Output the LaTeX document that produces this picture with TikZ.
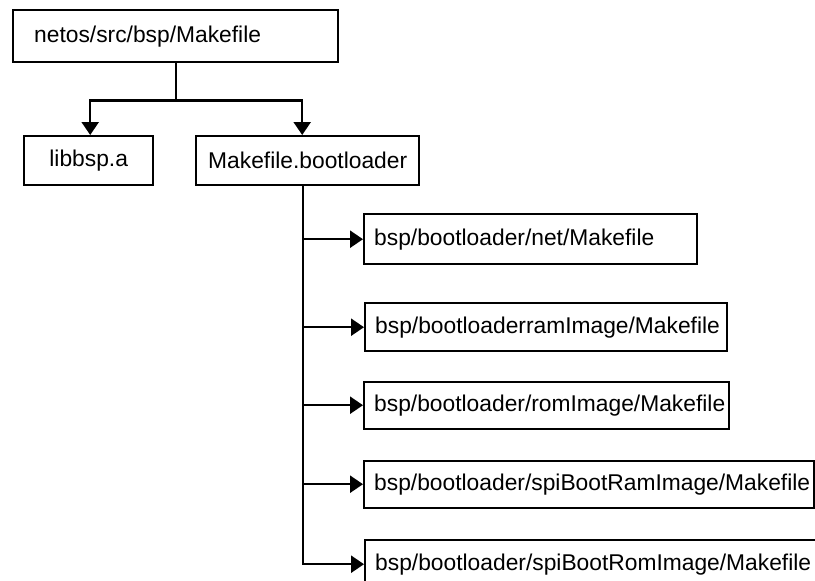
\documentclass[tikz,border=0pt]{standalone}
\usepackage{fontspec}
\setmainfont{Liberation Sans}
\usetikzlibrary{arrows.meta}
\begin{document}
\begin{tikzpicture}[x=1pt,y=-1pt,
  box/.style={draw, line width=2.4pt, anchor=north west, inner ysep=0pt,
    font=\fontsize{22.8}{27}\selectfont},
  lbox/.style={box, align=left, inner xsep=10pt},
  conn/.style={line width=2.4pt},
  arr/.style={conn, -{Triangle[width=17pt,length=13pt]}}]
\useasboundingbox (0,0) rectangle (815,581);
\clip (0,0) rectangle (815,581);
\node[box, minimum width=325, minimum height=52, text width=283, inner xsep=21, align=left] (top) at (12,9) {netos/src/bsp/Makefile};
\node[box, minimum width=129, minimum height=49, text width=109, inner xsep=10, align=center] (lib) at (23,135) {libbsp.a};
\node[box, minimum width=223, minimum height=49, text width=215, inner xsep=4, align=center] (mb) at (195,135) {Makefile.bootloader};
\node[lbox, minimum width=333, minimum height=50, text width=313] (b1) at (363,213) {bsp/bootloader/net/Makefile};
\node[lbox, minimum width=362, minimum height=48, text width=342] (b2) at (364,302) {bsp/bootloaderramImage/Makefile};
\node[lbox, minimum width=365, minimum height=47, text width=345] (b3) at (363,380.5) {bsp/bootloader/romImage/Makefile};
\node[lbox, minimum width=450, minimum height=47, text width=430] (b4) at (363,459.5) {bsp/bootloader/spiBootRamImage/Makefile};
\node[lbox, minimum width=470, minimum height=48, text width=450] (b5) at (364,539) {bsp/bootloader/spiBootRomImage/Makefile};
% top connectors
\coordinate (j) at ([yshift=-37pt]top.south);
\draw[conn] (top.south) -- (j);
\draw[arr] (j) -| ([xshift=1.5pt]lib.north);
\draw[arr] (j) -| ([xshift=-5.5pt]mb.north);
% trunk
\coordinate (t) at ([xshift=-4.5pt]mb.south);
\draw[arr] (t) |- (b1.west);
\draw[arr] (t) |- (b2.west);
\draw[arr] (t) |- (b3.west);
\draw[arr] (t) |- (b4.west);
\draw[arr] (t) |- (b5.west);
\end{tikzpicture}
\end{document}
